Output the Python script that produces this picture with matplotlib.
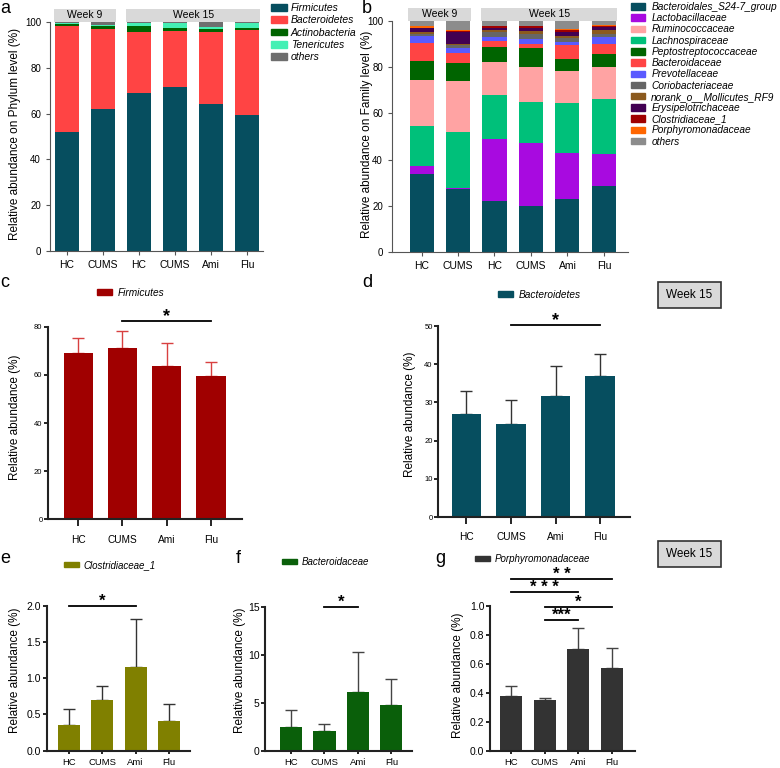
import matplotlib
matplotlib.use('Agg')
import matplotlib.pyplot as plt
from matplotlib.patches import Rectangle, Patch
import numpy as np

plt.rcParams['font.family'] = ['Liberation Sans', 'DejaVu Sans']

# ---- data ----
groups6 = ['HC', 'CUMS', 'HC', 'CUMS', 'Ami', 'Flu']
groups4 = ['HC', 'CUMS', 'Ami', 'Flu']

# phylum level (%)
phyla = ['Firmicutes', 'Bacteroidetes', 'Actinobacteria', 'Tenericutes', 'others']
firmicutes = [51.9, 62.1, 69.1, 71.4, 64.0, 59.5]
bacteroidetes = [46.2, 35.0, 26.7, 24.7, 31.8, 37.0]
actinobacteria = [0.9, 1.3, 2.6, 1.4, 1.1, 1.0]
tenericutes = [0.4, 0.3, 1.3, 2.2, 1.0, 2.2]
others_phylum = [0.6, 1.3, 0.3, 0.3, 2.1, 0.3]
phylum_colors = ['#064e5f', '#ff4444', '#006400', '#44f0b4', '#6e6e6e']

# family level (%), listed in stacking order (bottom -> top)
families = ['Bacteroidales_S24-7_group', 'Lactobacillaceae', 'Lachnospiraceae',
            'Ruminococcaceae', 'Peptostreptococcaceae', 'Bacteroidaceae',
            'Prevotellaceae', 'Coriobacteriaceae', 'norank_o__Mollicutes_RF9',
            'Erysipelotrichaceae', 'Clostridiaceae_1', 'Porphyromonadaceae', 'others']
s24_7 = [33.7, 27.3, 22.2, 20.0, 23.2, 28.6]
lactobacillaceae = [3.7, 0.5, 26.6, 27.3, 19.5, 13.8]
lachnospiraceae = [17.1, 24.1, 19.1, 17.4, 21.9, 23.8]
ruminococcaceae = [19.9, 22.2, 14.1, 15.2, 13.7, 13.9]
peptostreptococcaceae = [8.2, 7.5, 6.6, 8.2, 5.2, 5.4]
bacteroidaceae = [7.9, 4.3, 2.6, 1.7, 6.0, 4.3]
prevotellaceae = [3.0, 2.2, 1.9, 2.3, 1.3, 3.3]
coriobacteriaceae = [0.8, 1.2, 1.9, 2.0, 1.8, 1.1]
mollicutes_rf9 = [0.7, 0.5, 1.0, 1.5, 1.0, 1.8]
erysipelotrichaceae = [1.7, 5.5, 1.0, 1.4, 1.6, 1.3]
clostridiaceae_1 = [0.3, 0.3, 0.5, 0.5, 0.6, 0.4]
porphyromonadaceae = [0.7, 0.4, 0.2, 0.3, 0.6, 0.4]
others_family = [2.3, 4.0, 2.3, 2.2, 3.6, 1.9]
family_colors = ['#064e5f', '#a80ae0', '#00c07a', '#ffa3a3', '#006400', '#ff4444',
                 '#5a5aff', '#666666', '#8b5a1e', '#420052', '#a00000', '#ff6600', '#8c8c8c']
legend_order = [0, 1, 3, 2, 4, 5, 6, 7, 8, 9, 10, 11, 12]

# week 15 single taxa, mean and SD (%)
firm_mean = [68.9, 71.3, 63.8, 59.4]
firm_sd = [6.3, 6.9, 9.3, 5.8]
bact_mean = [26.9, 24.3, 31.8, 37.0]
bact_sd = [6.0, 6.2, 7.7, 5.6]
clos_mean = [0.354, 0.70, 1.15, 0.414]
clos_sd = [0.216, 0.19, 0.67, 0.23]
bacd_mean = [2.5, 2.05, 6.08, 4.76]
bacd_sd = [1.7, 0.69, 4.22, 2.74]
porph_mean = [0.377, 0.349, 0.699, 0.568]
porph_sd = [0.071, 0.012, 0.149, 0.142]

W, H = 780, 768
fig = plt.figure(figsize=(7.8, 7.68), dpi=100)


def px_axes(x0, x1, ytop, ybot):
    return fig.add_axes([x0 / W, 1 - ybot / H, (x1 - x0) / W, (ybot - ytop) / H])


def ftext(x, y, s, **kw):
    return fig.text(x / W, 1 - y / H, s, **kw)


def stacked_panel(ax, series, colors, xlim, strip_h):
    x = np.arange(6)
    bottom = np.zeros(6)
    for vals, c in zip(series, colors):
        ax.bar(x, vals, 0.66, bottom=bottom, color=c, linewidth=0)
        bottom += np.array(vals)
    ax.set_xlim(*xlim)
    ax.set_ylim(0, 100)
    ax.set_yticks([0, 20, 40, 60, 80, 100])
    ax.set_xticks(x)
    ax.set_xticklabels(groups6, fontsize=7.5)
    ax.tick_params(axis='y', labelsize=7, length=3, color='#555555')
    ax.tick_params(axis='x', length=3, color='#555555')
    for s in ['top', 'right']:
        ax.spines[s].set_visible(False)
    for s in ['left', 'bottom']:
        ax.spines[s].set_color('#555555')
    # week strips
    for lo, hi, lab in [(0, 1, 'Week 9'), (2, 5, 'Week 15')]:
        ax.add_patch(Rectangle((lo - 0.36, 100), hi - lo + 0.72, strip_h,
                               facecolor='#d9d9d9', edgecolor='none', clip_on=False))
        ax.text((lo + hi) / 2, 100 + strip_h / 2, lab, ha='center', va='center',
                fontsize=7.5, clip_on=False)


# ---- panel a ----
ax_a = px_axes(50, 263, 22, 251)
stacked_panel(ax_a, [firmicutes, bacteroidetes, actinobacteria, tenericutes,
                     others_phylum], phylum_colors, (-0.47, 5.44), 5.7)
ax_a.legend([Patch(color=c) for c in phylum_colors], phyla, loc='upper left',
            bbox_to_anchor=(271 / W, 1 - 3 / H), bbox_transform=fig.transFigure,
            frameon=False, prop={'style': 'italic', 'size': 7.5}, handlelength=1.5,
            handleheight=0.6, handletextpad=0.4, labelspacing=0.22, borderpad=0,
            borderaxespad=0)
ftext(15, 134, 'Relative abundance on Phylum level (%)', rotation=90, ha='center',
      va='center', fontsize=8.5)

# ---- panel b ----
ax_b = px_axes(392, 628, 20.7, 252.3)
fam_series = [s24_7, lactobacillaceae, lachnospiraceae, ruminococcaceae,
              peptostreptococcaceae, bacteroidaceae, prevotellaceae, coriobacteriaceae,
              mollicutes_rf9, erysipelotrichaceae, clostridiaceae_1, porphyromonadaceae,
              others_family]
stacked_panel(ax_b, fam_series, family_colors, (-0.81, 5.66), 5.6)
ax_b.legend([Patch(color=family_colors[i]) for i in legend_order],
            [families[i] for i in legend_order], loc='upper left',
            bbox_to_anchor=(631 / W, 1 - 2 / H), bbox_transform=fig.transFigure,
            frameon=False, prop={'style': 'italic', 'size': 7.3}, handlelength=1.4,
            handleheight=0.6, handletextpad=0.6, labelspacing=0.12, borderpad=0,
            borderaxespad=0)
ftext(367, 134, 'Relative abundance on Family level (%)', rotation=90, ha='center',
      va='center', fontsize=8.5)


# ---- single-taxon bar panels ----
def bar_panel(ax, mean, sd, color, ecolor, ylim, yticks, xlim, xlab_fs, ytick_fs,
              xtick_len, xtick_pad, ytick_fmt=None):
    x = np.arange(4)
    ax.bar(x, mean, 0.66, color=color, linewidth=0, zorder=2)
    ax.errorbar(x, mean, yerr=[np.zeros(4), sd], fmt='none', ecolor=ecolor,
                elinewidth=1, capsize=4, capthick=1, zorder=1)
    ax.set_xlim(*xlim)
    ax.set_ylim(*ylim)
    ax.set_yticks(yticks)
    if ytick_fmt:
        ax.set_yticklabels([ytick_fmt.format(t) for t in yticks])
    ax.set_xticks(x)
    ax.set_xticklabels(groups4, fontsize=xlab_fs)
    ax.tick_params(axis='y', labelsize=ytick_fs, length=3, width=1.2, pad=1)
    ax.tick_params(axis='x', length=xtick_len, width=1.2, pad=xtick_pad)
    for s in ['top', 'right']:
        ax.spines[s].set_visible(False)
    for s in ['left', 'bottom']:
        ax.spines[s].set_linewidth(1.5)
        ax.spines[s].set_color('#222222')


def sig(ax, i, j, y, label, fs=12):
    ax.plot([i, j], [y, y], color='black', lw=1.3, clip_on=False)
    ax.text((i + j) / 2, y, label, ha='center', va='baseline', fontsize=fs,
            fontweight='bold', clip_on=False)


def single_legend(ax, color, label, x, y, fs=7):
    ax.legend([Patch(color=color)], [label], loc='center left',
              bbox_to_anchor=(x / W, 1 - y / H), bbox_transform=fig.transFigure,
              frameon=False, prop={'style': 'italic', 'size': fs}, handlelength=1.5,
              handleheight=0.55, handletextpad=0.5, borderpad=0, borderaxespad=0)


# panel c
ax_c = px_axes(48, 241.7, 326.7, 519.3)
bar_panel(ax_c, firm_mean, firm_sd, '#a00000', '#d84040', (0, 80), [0, 20, 40, 60, 80],
          (-0.68, 3.69), 7.3, 5.5, 5, 6)
sig(ax_c, 1, 3, 82.4, '*', 13)
single_legend(ax_c, '#a00000', 'Firmicutes', 97, 293, 7.3)
ftext(15, 417, 'Relative abundance (%)', rotation=90, ha='center', va='center', fontsize=8.5)

# panel d
ax_d = px_axes(438.3, 630, 326, 517)
bar_panel(ax_d, bact_mean, bact_sd, '#064e5f', '#333333', (0, 50), [0, 10, 20, 30, 40, 50],
          (-0.63, 3.67), 7.3, 5.5, 5, 6)
sig(ax_d, 1, 3, 50.3, '*', 13)
single_legend(ax_d, '#064e5f', 'Bacteroidetes', 498, 295, 7.3)
ftext(410, 414, 'Relative abundance (%)', rotation=90, ha='center', va='center', fontsize=8.5)

# panel e
ax_e = px_axes(46.7, 190, 605.7, 750.7)
bar_panel(ax_e, clos_mean, clos_sd, '#808000', '#333333', (0, 2.0), [0, 0.5, 1.0, 1.5, 2.0],
          (-0.66, 3.63), 6.8, 7.5, 2.5, 2.5, '{:.1f}')
sig(ax_e, 0, 2, 2.0, '*', 12)
single_legend(ax_e, '#808000', 'Clostridiaceae_1', 64, 565, 7)
ftext(15, 670, 'Relative abundance (%)', rotation=90, ha='center', va='center', fontsize=8.5)

# panel f
ax_f = px_axes(265, 411.7, 606.7, 750.7)
bar_panel(ax_f, bacd_mean, bacd_sd, '#0a5f0a', '#444444', (0, 15), [0, 5, 10, 15],
          (-0.78, 3.61), 6.8, 7.5, 2.5, 2.5)
sig(ax_f, 1, 2, 15.0, '*', 12)
single_legend(ax_f, '#0a5f0a', 'Bacteroidaceae', 282, 562, 7)
ftext(240, 670, 'Relative abundance (%)', rotation=90, ha='center', va='center', fontsize=8.5)

# panel g
ax_g = px_axes(490, 635, 605.7, 750.7)
bar_panel(ax_g, porph_mean, porph_sd, '#333333', '#444444', (0, 1.0),
          [0, 0.2, 0.4, 0.6, 0.8, 1.0], (-0.63, 3.70), 6.8, 7.5, 2.5, 2.5, '{:.1f}')
sig(ax_g, 0, 3, 1.184, '* *', 12)
sig(ax_g, 0, 2, 1.092, '* * *', 12)
sig(ax_g, 1, 3, 0.993, '*', 12)
sig(ax_g, 1, 2, 0.901, '***', 12)
single_legend(ax_g, '#333333', 'Porphyromonadaceae', 475, 559, 7)
ftext(458, 675, 'Relative abundance (%)', rotation=90, ha='center', va='center', fontsize=8.5)

# week 15 boxes
for y0 in [282, 541]:
    fig.add_artist(Rectangle((658 / W, 1 - (y0 + 26) / H), 63 / W, 26 / H,
                             transform=fig.transFigure, facecolor='#d9d9d9',
                             edgecolor='#333333', linewidth=1.2))
    ftext(689.5, y0 + 13, 'Week 15', ha='center', va='center', fontsize=8.5)

# panel letters
for lab, x, y in [('a', 0, 13), ('b', 362, 13), ('c', 0, 287), ('d', 362, 287),
                  ('e', 0, 563), ('f', 236, 563), ('g', 435, 563)]:
    ftext(x, y, lab, fontsize=13, va='baseline', ha='left')

fig.savefig('out.png', dpi=100)
